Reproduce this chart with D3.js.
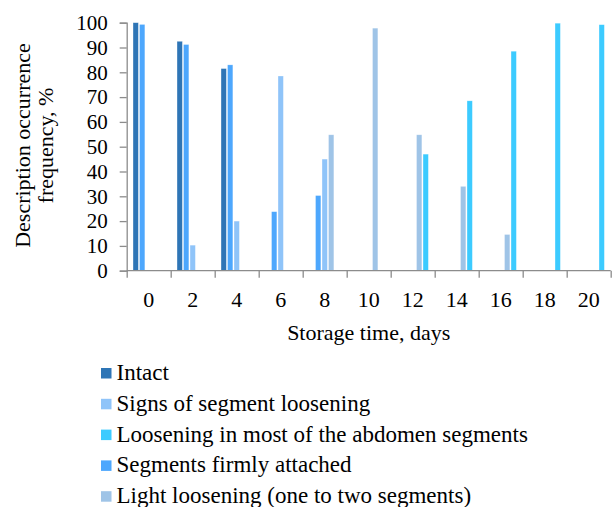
<!DOCTYPE html>
<html>
<head>
<meta charset="utf-8">
<script src="https://cdn.jsdelivr.net/npm/d3@7"></script>
<style>
  body { margin: 0; background: #fff; }
  text { font-family: "Liberation Serif", "Times New Roman", serif; fill: #000; }
</style>
</head>
<body>
<div id="chart"></div>
<script>
// storage days on the x axis
var days = ["0", "2", "4", "6", "8", "10", "12", "14", "16", "18", "20"];

// series values, % (null = no bar)
var intact      = [100, 92.5, 81.5, null, null, null, null, null, null, null, null];
var firmly      = [99.3, 91.2, 83, 23.8, 30.3, null, null, null, null, null, null];
var signs       = [null, 10.3, 20, 78.5, 45, null, null, null, null, null, null];
var lightLoose  = [null, null, null, null, 54.8, 97.8, 54.8, 34, 14.6, null, null];
var mostLoose   = [null, null, null, null, null, null, 47, 68.5, 88.5, 99.8, 99.2];

var yTicks = [0, 10, 20, 30, 40, 50, 60, 70, 80, 90, 100];

// order of bars inside a group
var series = [
  {name: "Intact", values: intact, color: "#2e75b6"},
  {name: "Segments firmly attached", values: firmly, color: "#4da7fd"},
  {name: "Signs of segment loosening", values: signs, color: "#8fc4f9"},
  {name: "Light loosening (one to two segments)", values: lightLoose, color: "#9fc4e7"},
  {name: "Loosening in most of the abdomen segments", values: mostLoose, color: "#3ccbff"}
];
// order in the legend
var legendOrder = ["Intact", "Signs of segment loosening",
                   "Loosening in most of the abdomen segments",
                   "Segments firmly attached", "Light loosening (one to two segments)"];

var W = 613, H = 507;
var plotL = 126.7, plotR = 610.7, plotT = 22.7, plotB = 270.7;

var svg = d3.select("#chart").append("svg")
  .attr("width", W).attr("height", H);

var x0 = d3.scaleBand().domain(days).range([plotL, plotR]).padding(0);
var x1 = d3.scaleBand().domain(series.map(d => d.name))
  .range([0, x0.bandwidth()]).paddingInner(0.18).paddingOuter(0.975);
var y = d3.scaleLinear().domain([0, 100]).range([plotB, plotT]);

// bars
var groups = svg.selectAll(".series").data(series).enter().append("g")
  .attr("fill", d => d.color);
groups.selectAll("rect")
  .data(s => s.values.map((v, i) => ({name: s.name, day: days[i], v: v})).filter(d => d.v != null))
  .enter().append("rect")
  .attr("x", d => x0(d.day) + x1(d.name))
  .attr("width", x1.bandwidth())
  .attr("y", d => y(d.v))
  .attr("height", d => plotB - y(d.v))
  .attr("stroke", "#fff").attr("stroke-opacity", 0.45).attr("stroke-width", 0.6);

// y axis
var yAxis = svg.append("g").attr("transform", "translate(" + plotL + ",0)")
  .call(d3.axisLeft(y).tickValues(yTicks).tickSize(7).tickPadding(12));
yAxis.select(".domain").attr("stroke", "#8c8c8c").attr("stroke-width", 1.3);
yAxis.selectAll(".tick line").attr("stroke", "#8c8c8c").attr("stroke-width", 1.3);
yAxis.selectAll("text").attr("font-size", 21).attr("font-family", "Liberation Serif");

// x axis: tick marks at group boundaries
var xEdges = d3.scaleLinear().domain([0, days.length]).range([plotL, plotR]);
var xTickAxis = svg.append("g").attr("transform", "translate(0," + plotB + ")")
  .call(d3.axisBottom(xEdges).ticks(days.length).tickSize(7).tickFormat(""));
xTickAxis.select(".domain").attr("stroke", "#8c8c8c").attr("stroke-width", 1.3)
  .attr("d", "M" + plotL + ",0H" + plotR);
xTickAxis.selectAll(".tick line").attr("stroke", "#8c8c8c").attr("stroke-width", 1.3);

// x axis labels at group centres
var xLab = svg.append("g").attr("transform", "translate(0," + plotB + ")")
  .call(d3.axisBottom(x0).tickSize(0).tickPadding(21));
xLab.select(".domain").remove();
xLab.selectAll("text").attr("font-size", 22).attr("font-family", "Liberation Serif");

// axis titles
svg.append("text")
  .attr("x", (plotL + plotR) / 2).attr("y", 340)
  .attr("text-anchor", "middle").attr("font-size", 22)
  .text("Storage time, days");

var yTitle = svg.append("text")
  .attr("transform", "translate(0,145.5) rotate(-90)")
  .attr("text-anchor", "middle").attr("font-size", 22);
yTitle.append("tspan").attr("x", 0).attr("y", 29.5).text("Description occurrence");
yTitle.append("tspan").attr("x", 0).attr("y", 52.5).text("frequency, %");

// legend
var colorOf = {};
series.forEach(s => colorOf[s.name] = s.color);
var legend = svg.selectAll(".legend").data(legendOrder).enter().append("g")
  .attr("transform", (d, i) => "translate(101," + (380 + i * 30.8) + ")");
legend.append("rect")
  .attr("x", 0).attr("y", -12).attr("width", 10.5).attr("height", 10.5)
  .attr("fill", d => colorOf[d]);
legend.append("text")
  .attr("x", 15.5).attr("y", 0).attr("font-size", 23)
  .text(d => d);
</script>
</body>
</html>
